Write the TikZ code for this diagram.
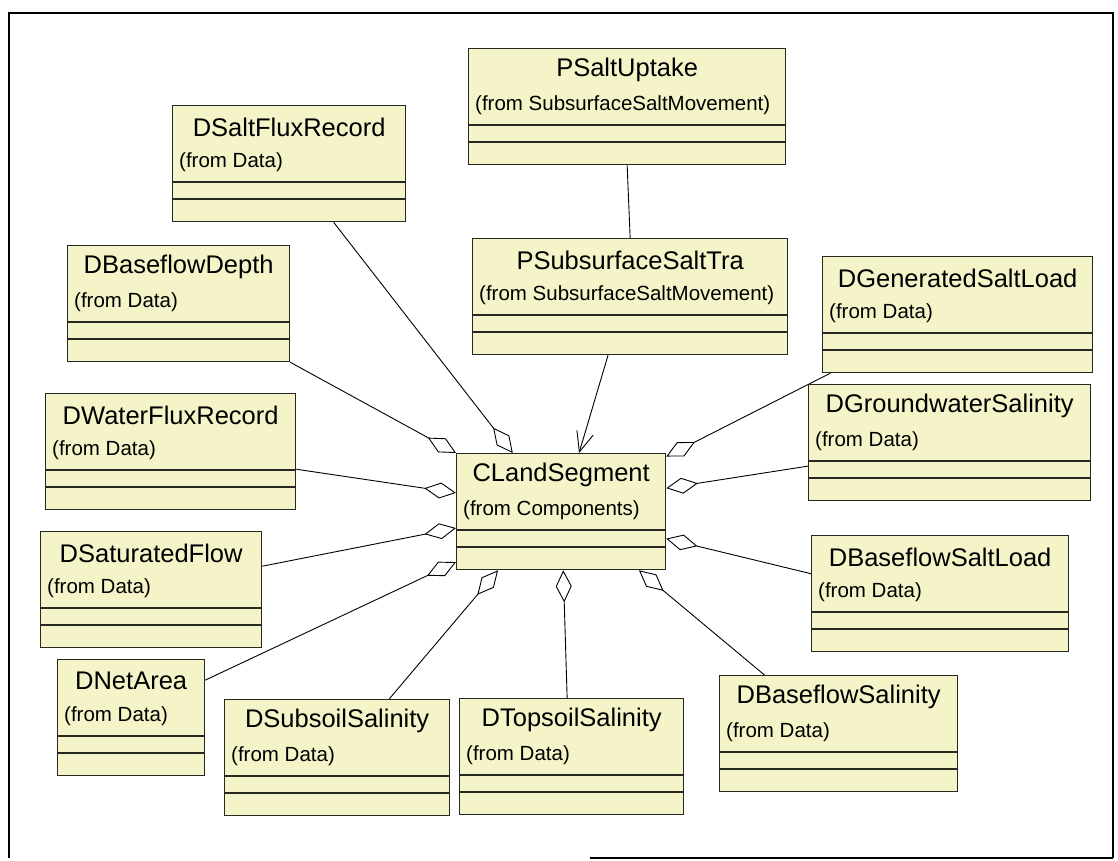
\documentclass[tikz,border=0pt]{standalone}
\usepackage{fontspec}
\setmainfont{Liberation Sans}
\usetikzlibrary{arrows.meta,calc}

\definecolor{boxfill}{RGB}{245,243,200}
\definecolor{inkline}{RGB}{40,40,35}

\tikzset{
  classbox/.style={draw=inkline, line width=1.3pt, fill=boxfill,
    minimum height=116pt, inner sep=0pt, anchor=north west},
  classtitle/.style={font=\fontsize{25.5}{28}\selectfont, inner sep=0pt, anchor=center},
  classfrom/.style={font=\fontsize{20.5}{23}\selectfont, inner sep=0pt, anchor=west},
  sepline/.style={draw=inkline, line width=1.1pt},
  link/.style={draw=black, line width=0.9pt},
  aggr/.style={link, -{Diamond[open, length=32pt, width=16pt, line width=0.9pt]}},
  navig/.style={link, -{Straight Barb[length=20pt, width=17pt, line width=0.9pt]}},
  outerframe/.style={draw=black, line width=2pt},
}

% #1 name, #2 left, #3 top, #4 width, #5 class name, #6 package
\newcommand\umlclass[6]{%
  \node[classbox, minimum width=#4pt] (#1) at (#2,#3) {};
  \node[classtitle] (#1-title) at ($(#1.north)+(0,22)$) {#5};
  \node[classfrom] (#1-from) at ($(#1.north west)+(7,57)$) {(from #6)};
  \draw[sepline] ($(#1.north west)+(0,77)$) -- ($(#1.north east)+(0,77)$);
  \draw[sepline] ($(#1.north west)+(0,94)$) -- ($(#1.north east)+(0,94)$);
}

\begin{document}
\begin{tikzpicture}[x=1pt, y=-1pt]
\useasboundingbox (0,0) rectangle (1118,861);

% surrounding frame
\draw[outerframe] (9,858) -- (9,13) -- (1113,13) -- (1113,858);
\draw[outerframe] (590,858) -- (1113,858);

% classes
\umlclass{psalt}{468}{48}{317}{PSaltUptake}{SubsurfaceSaltMovement}
\umlclass{psub}{472}{238}{315}{PSubsurfaceSaltTra}{SubsurfaceSaltMovement}
\umlclass{dsaltflux}{172}{105}{233}{DSaltFluxRecord}{Data}
\umlclass{dbasedepth}{67}{245}{222}{DBaseflowDepth}{Data}
\umlclass{dwaterflux}{45}{393}{250}{DWaterFluxRecord}{Data}
\umlclass{dgenload}{822}{256}{270}{DGeneratedSaltLoad}{Data}
\umlclass{dgwsal}{808}{384}{282}{DGroundwaterSalinity}{Data}
\umlclass{cland}{456}{453}{209}{CLandSegment}{Components}
\umlclass{dsatflow}{40}{531}{221}{DSaturatedFlow}{Data}
\umlclass{dbaseload}{811}{535}{257}{DBaseflowSaltLoad}{Data}
\umlclass{dnetarea}{57}{659}{147}{DNetArea}{Data}
\umlclass{dsubsoil}{224}{699}{225}{DSubsoilSalinity}{Data}
\umlclass{dtopsoil}{459}{698}{224}{DTopsoilSalinity}{Data}
\umlclass{dbasesal}{719}{675}{238}{DBaseflowSalinity}{Data}

% associations
\draw[link] (psalt.south) -- (psub.north);
\draw[navig] ($(psub.south west)!0.43!(psub.south east)$)
  -- ($(cland.north west)!0.585!(cland.north east)$);

% aggregations into CLandSegment
\draw[aggr] ($(dsaltflux.south west)!0.69!(dsaltflux.south east)$)
  -- ($(cland.north west)!0.27!(cland.north east)$);
\draw[aggr] (dbasedepth.south east) -- (cland.north west);
\draw[aggr] ($(dwaterflux.north east)!0.65!(dwaterflux.south east)$)
  -- ($(cland.north west)!0.34!(cland.south west)$);
\draw[aggr] ($(dsatflow.north east)!0.30!(dsatflow.south east)$)
  -- ($(cland.north west)!0.64!(cland.south west)$);
\draw[aggr] ($(dnetarea.north east)!0.18!(dnetarea.south east)$)
  -- ($(cland.north west)!0.93!(cland.south west)$);
\draw[aggr] ($(dsubsoil.north west)!0.73!(dsubsoil.north east)$)
  -- ($(cland.south west)!0.20!(cland.south east)$);
\draw[aggr] ($(dtopsoil.north west)!0.48!(dtopsoil.north east)$)
  -- ($(cland.south west)!0.51!(cland.south east)$);
\draw[aggr] ($(dbasesal.north west)!0.19!(dbasesal.north east)$)
  -- ($(cland.south west)!0.87!(cland.south east)$);
\draw[aggr] ($(dbaseload.north west)!0.33!(dbaseload.south west)$)
  -- ($(cland.north east)!0.73!(cland.south east)$);
\draw[aggr] ($(dgwsal.north west)!0.70!(dgwsal.south west)$)
  -- ($(cland.north east)!0.30!(cland.south east)$);
\draw[aggr] ($(dgenload.south west)!0.03!(dgenload.south east)$)
  -- ($(cland.north east)!0.03!(cland.south east)$);
\end{tikzpicture}
\end{document}
